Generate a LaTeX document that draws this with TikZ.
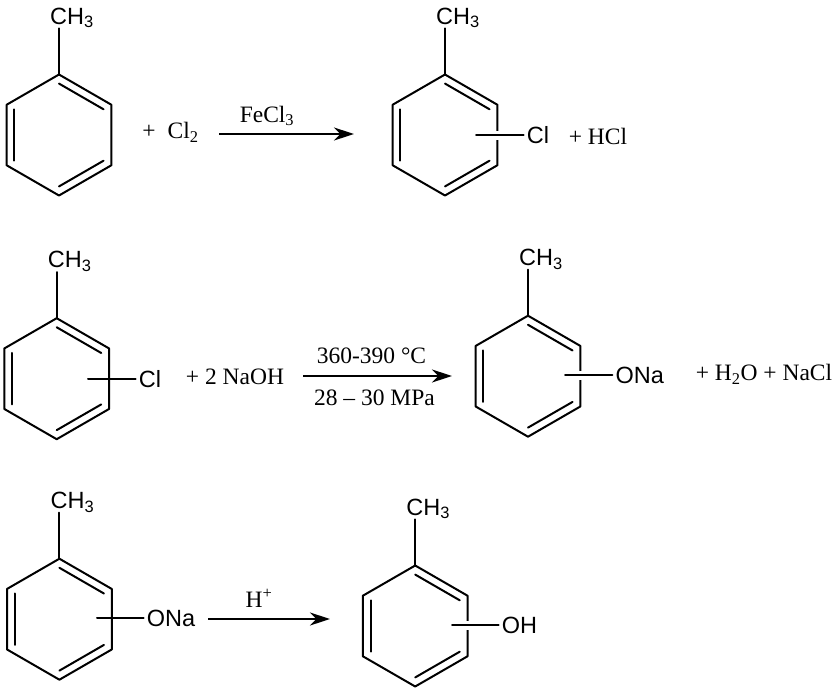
\documentclass[tikz,border=0pt]{standalone}
\usepackage{fontspec}
\setmainfont{Liberation Serif}
\newfontfamily\atomfont{Liberation Sans}
\usetikzlibrary{arrows.meta,calc}

\tikzset{
    bond/.style={line width=2pt, line cap=round, line join=round},
    halo/.style={preaction={draw=white, line width=9pt, line cap=butt}},
    atom/.style={inner sep=0pt, font=\atomfont\fontsize{23.5}{26}\selectfont},
    plain/.style={inner sep=0pt, font=\fontsize{23.5}{26}\selectfont},
    reaction/.style={line width=2pt, -{Stealth[length=20pt,width=13pt]}},
}

% ring at #2,#3 with its methyl group, vertices #1a ... #1f
\newcommand{\tolyl}[3]{
    \coordinate (#1) at (#2,#3);
    \foreach \p/\q in {a/90,b/30,c/-30,d/-90,e/-150,f/150} {
        \coordinate (#1\p) at ($(#1)+(\q:60.5pt)$);
    }
    \draw[bond] (#1a) -- (#1b) -- (#1c) -- (#1d) -- (#1e) -- (#1f) -- cycle;
    \foreach \p/\q in {a/b,c/d,e/f} {
        \draw[bond] ($(#1)!.85!(#1\p)$) -- ($(#1)!.85!(#1\q)$);
    }
    \node[atom] (#1m) at (#2+13,#3-117) {CH\textsubscript{3}};
    \draw[bond] (#1a |- #1m.south) -- (#1a);
}

\begin{document}
\begin{tikzpicture}[x=1pt,y=-1pt]
    \useasboundingbox (0,0) rectangle (836,691);

    % first line
    \tolyl{r1}{59}{135}
    \node[plain] (p1) at (170.5,132) {+\hspace{12pt}Cl\textsubscript{2}};
    \coordinate (a1) at (219,134);
    \coordinate (b1) at (354,134);
    \draw[reaction] (a1) -- (b1);
    \node[plain] (f1) at (267,116) {FeCl\textsubscript{3}};
    \tolyl{r2}{445}{135}
    \node[atom] (x2) at (538,135) {Cl};
    \coordinate (s2) at (476,135);
    \draw[bond,halo,shorten >=3pt] (s2) -- (x2.west);
    \node[plain] (p2) at (598,136) {+ HCl};

    % second line
    \tolyl{r3}{56.7}{378.7}
    \node[atom] (x3) at (150,379) {Cl};
    \coordinate (s3) at (88,379);
    \draw[bond,shorten >=3pt] (s3) -- (x3.west);
    \node[plain] (p3) at (235,377) {+ 2 NaOH};
    \coordinate (a3) at (303,376);
    \coordinate (b3) at (452,376);
    \draw[reaction] (a3) -- (b3);
    \node[plain] (f3) at (371.5,356) {360-390 °C};
    \node[plain] (g3) at (374.5,398) {28 – 30 MPa};
    \tolyl{r4}{528}{376.2}
    \node[atom] (x4) at (639.7,375) {ONa};
    \coordinate (s4) at (565,375);
    \draw[bond,halo,shorten >=3pt] (s4) -- (x4.west);
    \node[plain] (p4) at (764,374) {+ H\textsubscript{2}O + NaCl};

    % third line
    \tolyl{r5}{59.4}{619.2}
    \node[atom] (x5) at (171,618) {ONa};
    \coordinate (s5) at (97,618);
    \draw[bond,shorten >=3pt] (s5) -- (x5.west);
    \coordinate (a5) at (208,619);
    \coordinate (b5) at (330,619);
    \draw[reaction] (a5) -- (b5);
    \node[plain] (f5) at (259,598) {H\textsuperscript{+}};
    \tolyl{r6}{415.2}{626}
    \node[atom] (x6) at (519.5,625) {OH};
    \coordinate (s6) at (452,625);
    \draw[bond,halo,shorten >=3pt] (s6) -- (x6.west);
\end{tikzpicture}
\end{document}
